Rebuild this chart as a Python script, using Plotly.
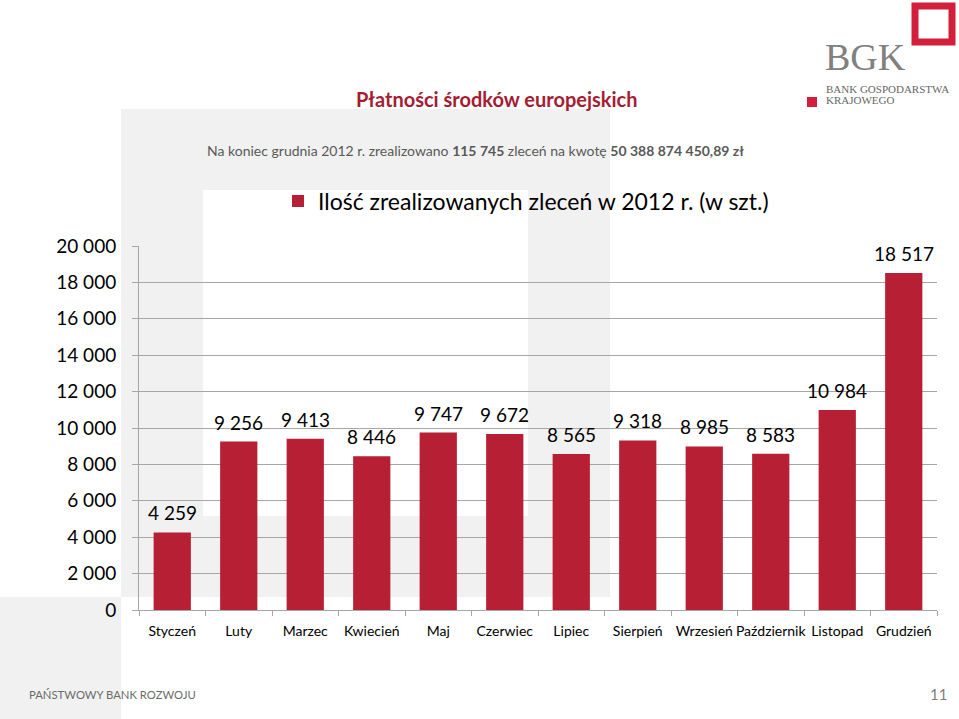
import plotly.graph_objects as go

months = ["Styczeń", "Luty", "Marzec", "Kwiecień", "Maj", "Czerwiec", "Lipiec",
          "Sierpień", "Wrzesień", "Październik", "Listopad", "Grudzień"]
orders = [4259, 9256, 9413, 8446, 9747, 9672, 8565, 9318, 8985, 8583, 10984, 18517]
series_name = "Ilość zrealizowanych zleceń w 2012 r. (w szt.)"
y_ticks = [0, 2000, 4000, 6000, 8000, 10000, 12000, 14000, 16000, 18000, 20000]

W, H = 959, 719
L, R, T, B = 139, 22, 246, 109
PW, PH = W - L - R, H - T - B

def px(x):
    return (x - L) / PW

def py(y):
    return (H - B - y) / PH

BAR = "#B71F34"
GRID = "#A6A6A6"
BG = "#F1F1F1"
FONT = "Lato"

fig = go.Figure()
fig.add_trace(go.Bar(
    x=months, y=orders, name=series_name,
    marker=dict(color=BAR, line=dict(width=0)),
    showlegend=True, hoverinfo="x+y",
))

shapes = [
    dict(type="rect", xref="paper", yref="paper", x0=px(121), x1=px(610), y0=py(597), y1=py(109),
         fillcolor=BG, line=dict(width=0), layer="below"),
    dict(type="rect", xref="paper", yref="paper", x0=px(203), x1=px(528), y0=py(516), y1=py(190),
         fillcolor="#FFFFFF", line=dict(width=0), layer="below"),
    dict(type="rect", xref="paper", yref="paper", x0=px(0), x1=px(121), y0=py(719), y1=py(597),
         fillcolor=BG, line=dict(width=0), layer="below"),
    # logo
    dict(type="rect", xref="paper", yref="paper", x0=px(915), x1=px(952), y0=py(42), y1=py(6),
         fillcolor="rgba(0,0,0,0)", line=dict(width=7, color="#D21F3C"), layer="above"),
    dict(type="rect", xref="paper", yref="paper", x0=px(807), x1=px(817), y0=py(107), y1=py(97),
         fillcolor="#D21F3C", line=dict(width=0), layer="above"),
]

annotations = [
    dict(text="<b>Płatności środków europejskich</b>", x=px(497), y=py(99), xref="paper", yref="paper",
         showarrow=False, xanchor="center", yanchor="middle",
         font=dict(family=FONT, size=20, color="#A51C33")),
    dict(text="Na koniec grudnia 2012 r. zrealizowano <b>115 745</b> zleceń na kwotę <b>50 388 874 450,89 zł</b>",
         x=px(475), y=py(150), xref="paper", yref="paper", showarrow=False,
         xanchor="center", yanchor="middle", font=dict(family=FONT, size=14, color="#595959")),
    dict(text="BGK", x=px(823), y=py(57), xref="paper", yref="paper", showarrow=False,
         xanchor="left", yanchor="middle", font=dict(family="Liberation Serif", size=38, color="#808080")),
    dict(text="BANK GOSPODARSTWA", x=px(824), y=py(88.5), xref="paper", yref="paper", showarrow=False,
         xanchor="left", yanchor="middle", font=dict(family="Liberation Serif", size=11, color="#666666")),
    dict(text="KRAJOWEGO", x=px(824), y=py(99.5), xref="paper", yref="paper", showarrow=False,
         xanchor="left", yanchor="middle", font=dict(family="Liberation Serif", size=11, color="#666666")),
    dict(text="PAŃSTWOWY BANK ROZWOJU", x=px(27), y=py(694), xref="paper", yref="paper", showarrow=False,
         xanchor="left", yanchor="middle", font=dict(family=FONT, size=11.3, color="#6B6B6B")),
    dict(text="11", x=px(949), y=py(694), xref="paper", yref="paper", showarrow=False,
         xanchor="right", yanchor="middle", font=dict(family=FONT, size=15, color="#7F7F7F")),
]

# data labels, placed from the data values
for m, v in zip(months, orders):
    annotations.append(dict(
        text=f"{v:,}".replace(",", " "), x=m, y=v, xref="x", yref="y",
        showarrow=False, xanchor="center", yanchor="bottom", yshift=6,
        font=dict(family=FONT, size=19, color="#000000"),
    ))

fig.update_layout(
    width=W, height=H,
    margin=dict(l=L, r=R, t=T, b=B, pad=0),
    paper_bgcolor="#FFFFFF", plot_bgcolor="rgba(0,0,0,0)",
    separators=", ",
    bargap=0.44,
    font=dict(family=FONT, color="#000000"),
    shapes=shapes, annotations=annotations,
    legend=dict(orientation="h", x=px(278), y=py(201), xanchor="left", yanchor="middle",
                font=dict(family=FONT, size=23, color="#000000"), bgcolor="rgba(0,0,0,0)",
                itemwidth=30),
    xaxis=dict(type="category", showgrid=False, showline=True, linecolor=GRID, linewidth=1,
               ticks="outside", tickson="boundaries", ticklen=5, tickcolor=GRID, tickangle=0,
               ticklabelstandoff=8,
               tickfont=dict(family=FONT, size=14, color="#000000"), automargin=False),
    yaxis=dict(range=[0, 20000], tickvals=y_ticks, tickformat=",d", showgrid=True, gridcolor=GRID,
               gridwidth=1, showline=True, linecolor=GRID, linewidth=1, zeroline=False,
               ticks="outside", ticklen=6, tickcolor=GRID, ticklabelstandoff=12,
               tickfont=dict(family=FONT, size=19, color="#000000"), automargin=False),
)

fig.write_html("out.html", config={"displayModeBar": False},
               post_script="document.body.style.margin='0';")
